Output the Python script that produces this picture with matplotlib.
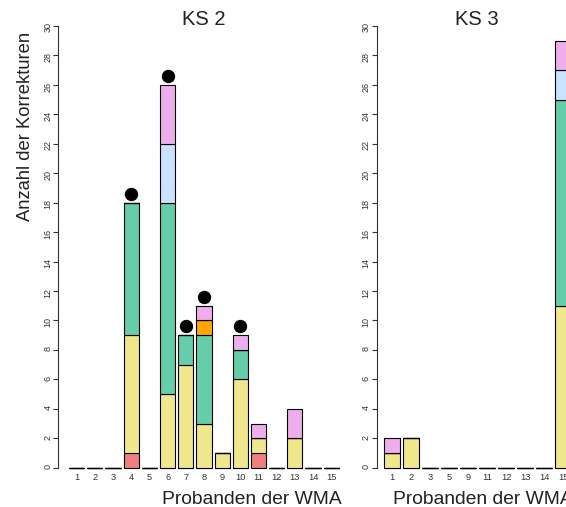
import matplotlib
matplotlib.use("Agg")
import matplotlib.pyplot as plt
import numpy as np

plt.rcParams["font.family"] = ["Liberation Sans", "DejaVu Sans"]

# ---- data -------------------------------------------------------------
# stack order from bottom to top
category_colors = ["#F08080", "#F0E68C", "#66CDAA", "#FFA500", "#CAE1FF", "#EEAEEE"]

ks2_labels = [str(i) for i in range(1, 16)]
ks2_red    = [0, 0, 0, 1, 0, 0, 0, 0, 0, 0, 1, 0, 0, 0, 0]
ks2_yellow = [0, 0, 0, 8, 0, 5, 7, 3, 1, 6, 1, 0, 2, 0, 0]
ks2_green  = [0, 0, 0, 9, 0, 13, 2, 6, 0, 2, 0, 0, 0, 0, 0]
ks2_orange = [0, 0, 0, 0, 0, 0, 0, 1, 0, 0, 0, 0, 0, 0, 0]
ks2_blue   = [0, 0, 0, 0, 0, 4, 0, 0, 0, 0, 0, 0, 0, 0, 0]
ks2_pink   = [0, 0, 0, 0, 0, 4, 0, 1, 0, 1, 1, 0, 2, 0, 0]
ks2_marked = ["4", "6", "7", "8", "10"]

ks3_labels = ["1", "2", "3", "5", "9", "11", "12", "13", "14", "15"]
ks3_red    = [0, 0, 0, 0, 0, 0, 0, 0, 0, 0]
ks3_yellow = [1, 2, 0, 0, 0, 0, 0, 0, 0, 11]
ks3_green  = [0, 0, 0, 0, 0, 0, 0, 0, 0, 14]
ks3_orange = [0, 0, 0, 0, 0, 0, 0, 0, 0, 0]
ks3_blue   = [0, 0, 0, 0, 0, 0, 0, 0, 0, 2]
ks3_pink   = [1, 0, 0, 0, 0, 0, 0, 0, 0, 2]
ks3_marked = []

# ---- layout (pixels) --------------------------------------------------
W, H = 566, 507
Y0_PX, Y30_PX = 467.7, 26.0

fig = plt.figure(figsize=(W / 100, H / 100), dpi=100)


def make_axes(left_px, right_px):
    return fig.add_axes([left_px / W, 1 - Y0_PX / H,
                         (right_px - left_px) / W, (Y0_PX - Y30_PX) / H])


def panel(ax, labels, stacks, marked):
    n = len(labels)
    x = 0.7 + 1.2 * np.arange(n)
    bottom = np.zeros(n)
    for vals, color in zip(stacks, category_colors):
        vals = np.asarray(vals, dtype=float)
        ax.bar(x, vals, width=1.0, bottom=bottom, color=color,
               edgecolor="black", linewidth=0.8, clip_on=False, zorder=2)
        bottom += vals
    for lab in marked:
        i = labels.index(lab)
        ax.plot(x[i], bottom[i] + 0.6, "o", color="black", ms=8.6,
                clip_on=False, zorder=3)

    ext = 0.04 * (1.2 * n - 0.2)
    ax.set_xlim(0.2 - ext, 1.2 * n + ext)
    ax.set_ylim(0, 30)

    for side in ("top", "right", "bottom"):
        ax.spines[side].set_visible(False)
    ax.spines["left"].set_bounds(0, 30)
    ax.spines["left"].set_color("#333333")
    ax.spines["left"].set_linewidth(0.8)

    ax.set_yticks(np.arange(0, 31, 2))
    ax.tick_params(axis="y", labelrotation=90, labelsize=6.5, length=3.75,
                   width=0.8, pad=0.5, colors="#333333")
    ax.set_xticks(x)
    ax.set_xticklabels(labels)
    ax.tick_params(axis="x", length=0, labelsize=6.7, pad=3.5,
                   colors="#333333")
    ax.patch.set_visible(False)


ax1 = make_axes(58.3, 349.6)
panel(ax1, ks2_labels,
      [ks2_red, ks2_yellow, ks2_green, ks2_orange, ks2_blue, ks2_pink],
      ks2_marked)

ax2 = make_axes(376.7, 578.6)
panel(ax2, ks3_labels,
      [ks3_red, ks3_yellow, ks3_green, ks3_orange, ks3_blue, ks3_pink],
      ks3_marked)

fig.text(204 / W, 1 - 19.5 / H, "KS 2", ha="center", va="center",
         fontsize=14.5, color="#222222")
fig.text(477 / W, 1 - 19.5 / H, "KS 3", ha="center", va="center",
         fontsize=14.5, color="#222222")
fig.text(25.5 / W, 1 - 126 / H, "Anzahl der Korrekturen", rotation=90,
         ha="center", va="center", fontsize=13.2, color="#222222")
fig.text(252 / W, 1 - 504.5 / H, "Probanden der WMA", ha="center",
         va="baseline", fontsize=13.9, color="#222222")
fig.text(483 / W, 1 - 504.5 / H, "Probanden der WMA", ha="center",
         va="baseline", fontsize=13.9, color="#222222")

fig.savefig("out.png", dpi=100)
